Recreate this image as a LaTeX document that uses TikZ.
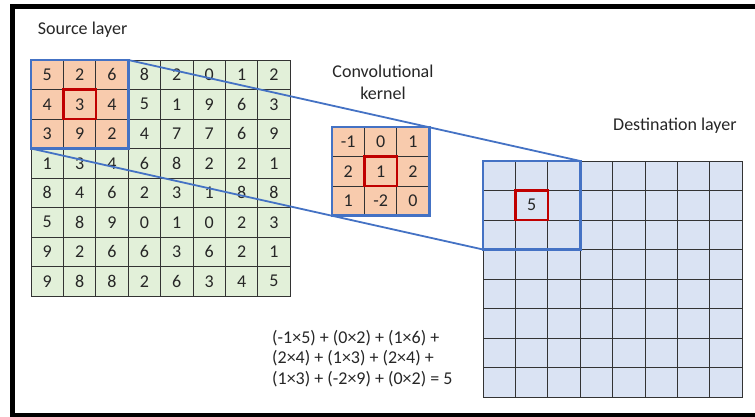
\documentclass[tikz,border=0pt]{standalone}
\usepackage{fontspec}
\setmainfont{Carlito}
\usetikzlibrary{positioning}
\definecolor{csrc}{HTML}{E2F0D9}
\definecolor{cwin}{HTML}{F8CBAD}
\definecolor{cdst}{HTML}{DAE3F3}
\definecolor{cedge}{HTML}{4472C4}
\definecolor{cmark}{HTML}{C00000}
\newcommand{\lblfont}{\fontsize{18}{20.5}\selectfont}
\tikzset{
  every picture/.style={x=1pt, y=1pt, font=\lblfont, text=black!85},
  cell/.style={draw=black!80, line width=0.8pt, minimum width=\cw pt,
    minimum height=\ch pt, inner sep=0pt, outer sep=0pt},
  srccell/.style={cell, fill=csrc},
  wincell/.style={cell, fill=cwin},
  dstcell/.style={cell, fill=cdst},
  win/.style={draw=cedge, line width=2.6pt, minimum width=3*\cw pt,
    minimum height=3*\ch pt, inner sep=0pt, outer sep=0pt},
  hl/.style={draw=cmark, line width=2.4pt, minimum width=\cw pt,
    minimum height=\ch pt, inner sep=0pt, outer sep=0pt},
  link/.style={cedge, line width=1.8pt},
  frame/.style={line width=5pt, line join=miter},
}
\def\cw{32.4}
\def\ch{29.5}

\begin{document}
\begin{tikzpicture}
  \path[use as bounding box] (0,0) rectangle (755,-417);
  \draw[frame] (800,-6.5) -- (12.5,-6.5) -- (12.5,-415) -- (800,-415);
  % source layer
  \foreach \row [count=\r] in {{5,2,6,8,2,0,1,2},{4,3,4,5,1,9,6,3},
      {3,9,2,4,7,7,6,9},{1,3,4,6,8,2,2,1},{8,4,6,2,3,1,8,8},
      {5,8,9,0,1,0,2,3},{9,2,6,6,3,6,2,1},{9,8,8,2,6,3,4,5}}{
    \foreach \v [count=\c] in \row {
      \def\sty{srccell}
      \ifnum\r<4 \ifnum\c<4 \def\sty{wincell}\fi\fi
      \node[\sty] (s-\r-\c) at ({31+\cw*(\c-0.5)},{-60-\ch*(\r-0.5)}) {\v};
    }
  }
  \node[win] (swin) at (s-2-2) {};
  \node[hl] (shl) at (s-2-2) {};
  \node[anchor=base west, inner sep=0pt] (srctitle) at (37.7,-34.3) {Source layer};
  % destination layer
  \foreach \r in {1,...,8}
    \foreach \c in {1,...,8}
      \node[dstcell] (d-\r-\c) at ({483+\cw*(\c-0.5)},{-161-\ch*(\r-0.5)}) {};
  \node[win] (dwin) at (d-2-2) {};
  \node[hl] (dhl) at (d-2-2) {5};
  \node[anchor=base west, inner sep=0pt] (dsttitle) at (613,-130.7) {Destination layer};
  % window edges
  \draw[link] (swin.north east) -- (dwin.north east);
  \draw[link] (swin.south west) -- (dwin.south west);
  % kernel
  \foreach \row [count=\r] in {{-1,0,1},{2,1,2},{1,-2,0}}{
    \foreach \v [count=\c] in \row
      \node[wincell] (k-\r-\c) at ({332+\cw*(\c-0.5)},{-127-\ch*(\r-0.5)}) {\v};
  }
  \node[win] (kwin) at (k-2-2) {};
  \node[hl] (khl) at (k-2-2) {};
  \node[align=center, inner sep=0pt, anchor=north,
    font=\fontsize{18}{22}\selectfont] (ktitle) at (383,-64.5) {Convolutional\\kernel};
  % sum
  \node[align=left, anchor=north west, inner sep=0pt] (sum) at (272,-330)
    {(-1×5) + (0×2) + (1×6) +\\(2×4) + (1×3) + (2×4) +\\(1×3) + (-2×9) + (0×2) = 5};
\end{tikzpicture}
\end{document}
